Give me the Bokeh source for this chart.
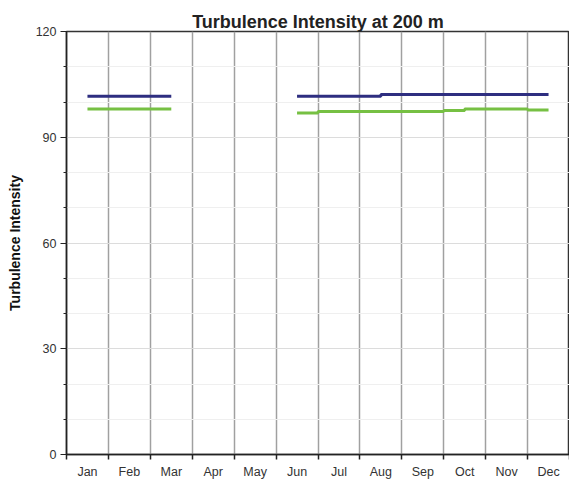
import math
from bokeh.plotting import figure
from bokeh.models import FixedTicker, Range1d
from bokeh.embed import file_html
from bokeh.resources import INLINE

months = ["Jan", "Feb", "Mar", "Apr", "May", "Jun",
          "Jul", "Aug", "Sep", "Oct", "Nov", "Dec"]

nan = float("nan")
# samples every half month, starting at mid-January and ending at mid-December
series_blue = [101.6, 101.6, 101.6, 101.6, 101.6,
               nan, nan, nan, nan, nan,
               101.6, 101.6, 101.6, 101.6,
               102.1, 102.1, 102.1, 102.1, 102.1, 102.1, 102.1, 102.1, 102.1]
series_green = [98.0, 98.0, 98.0, 98.0, 98.0,
                nan, nan, nan, nan, nan,
                96.9, 97.3, 97.3, 97.3, 97.3, 97.3, 97.3,
                97.6, 98.0, 98.0, 98.0, 97.7, 97.7]

y_ticks = [0, 30, 60, 90, 120]
y_minor = list(range(0, 121, 10))

half_x = [0.5 + 0.5 * i for i in range(len(series_blue))]
centers = [i + 0.5 for i in range(len(months))]
bounds = list(range(len(months) + 1))

p = figure(width=569, height=481, output_backend="svg", toolbar_location=None,
           x_range=Range1d(0, 12), y_range=Range1d(0, 120),
           min_border_left=66, min_border_right=0, min_border_top=31,
           min_border_bottom=25, background_fill_color="white",
           border_fill_color="white")

p.title.text = "Turbulence Intensity at 200 m"
p.title.align = "center"
p.title.text_font = "Liberation Sans"
p.title.text_font_size = "18px"
p.title.text_font_style = "bold"
p.title.text_color = "#222222"
p.title.offset = 0
p.title.standoff = 0

p.outline_line_color = "#333333"
p.outline_line_width = 1.5

# x axis
p.xaxis.ticker = FixedTicker(ticks=centers, minor_ticks=bounds)
p.xaxis.major_label_overrides = {c: m for c, m in zip(centers, months)}
p.xaxis.major_tick_line_color = None
p.xaxis.minor_tick_out = 5
p.xaxis.minor_tick_in = 0
p.xaxis.minor_tick_line_color = "#222222"
p.xaxis.minor_tick_line_width = 1.5
p.xaxis.axis_line_color = "#222222"
p.xaxis.axis_line_width = 1.5
p.xaxis.major_label_text_font = "Liberation Sans"
p.xaxis.major_label_text_font_size = "12.5px"
p.xaxis.major_label_text_color = "#333333"
p.xaxis.major_label_standoff = 4

p.xgrid.ticker = FixedTicker(ticks=bounds)
p.xgrid.grid_line_color = "#a0a0a0"
p.xgrid.grid_line_width = 1.5

# y axis
p.yaxis.ticker = FixedTicker(ticks=y_ticks, minor_ticks=y_minor)
p.yaxis.axis_label = "Turbulence Intensity"
p.yaxis.axis_label_text_font = "Liberation Sans"
p.yaxis.axis_label_text_font_size = "14px"
p.yaxis.axis_label_text_font_style = "bold"
p.yaxis.axis_label_text_color = "#111111"
p.yaxis.axis_label_standoff = 10
p.yaxis.major_label_text_font = "Liberation Sans"
p.yaxis.major_label_text_font_size = "12.5px"
p.yaxis.major_label_text_color = "#333333"
p.yaxis.major_label_standoff = 4
p.yaxis.major_tick_out = 6
p.yaxis.major_tick_in = 0
p.yaxis.minor_tick_out = 3
p.yaxis.minor_tick_in = 0
p.yaxis.major_tick_line_color = "#222222"
p.yaxis.minor_tick_line_color = "#222222"
p.yaxis.axis_line_color = "#222222"
p.yaxis.axis_line_width = 1.5

p.ygrid.grid_line_color = "#dcdcdc"
p.ygrid.minor_grid_line_color = "#efefef"


def segments(xs, ys):
    seg_x, seg_y = [], []
    for x, y in zip(xs, ys):
        if math.isnan(y):
            if seg_x:
                yield seg_x, seg_y
            seg_x, seg_y = [], []
        else:
            seg_x.append(x)
            seg_y.append(y)
    if seg_x:
        yield seg_x, seg_y


for ys, color in ((series_blue, "#2e2e80"), (series_green, "#76c043")):
    for sx, sy in segments(half_x, ys):
        p.step(sx, sy, mode="after", line_color=color, line_width=3)

open("out.html", "w").write(file_html(p, INLINE))
